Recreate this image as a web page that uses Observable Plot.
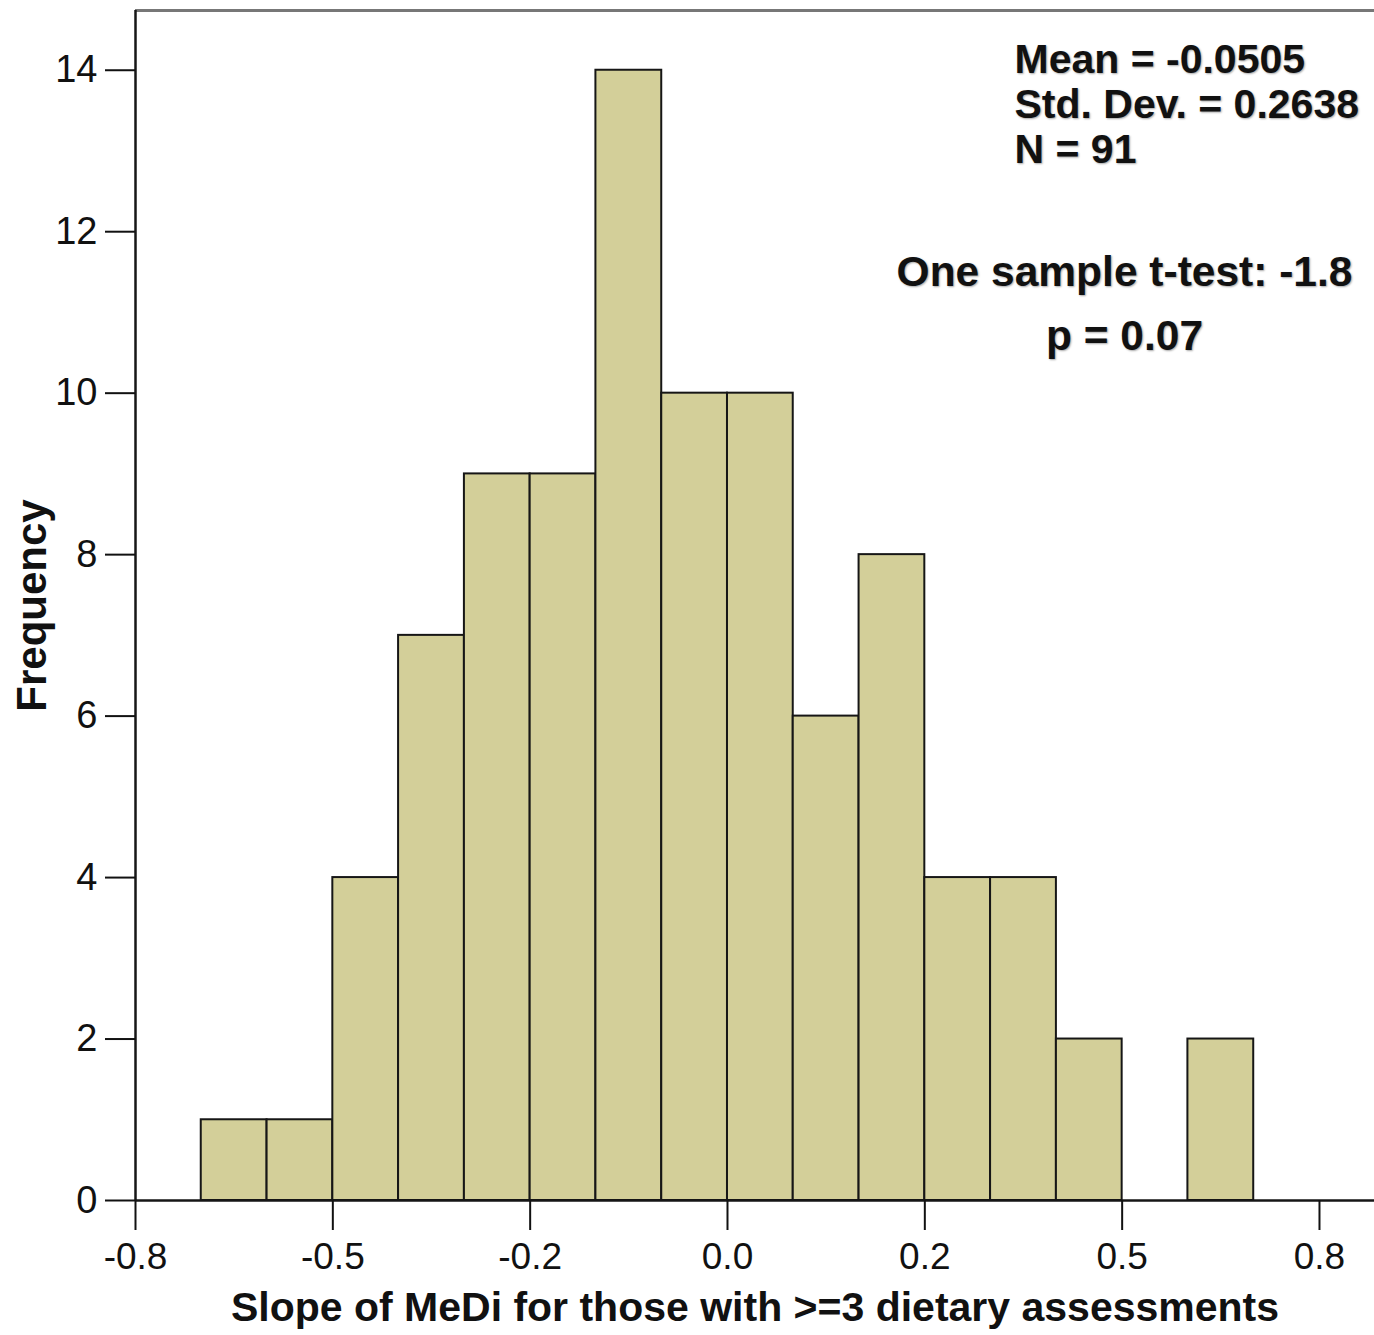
<!DOCTYPE html>
<html><head><meta charset="utf-8">
<script src="https://cdn.jsdelivr.net/npm/d3@7"></script>
<script src="https://cdn.jsdelivr.net/npm/@observablehq/plot@0.6"></script>
<style>
body{margin:0;background:#fff}
svg{display:block}
.ann text{text-shadow:1px 1px 2px rgba(0,0,0,0.35)}
</style>
</head><body><div id="chart"></div>
<script>
// Histogram bins (edges) and counts
const binEdges = [-0.6667,-0.5833,-0.5,-0.4167,-0.3333,-0.25,-0.1667,-0.0833,0,0.0833,0.1667,0.25,0.3333,0.4167,0.5,0.5833,0.6667];
const counts = [1,1,4,7,9,9,14,10,10,6,8,4,4,2,0,2];
const xTicks = [-0.75,-0.5,-0.25,0,0.25,0.5,0.75];
const xTickLabels = ["-0.8","-0.5","-0.2","0.0","0.2","0.5","0.8"];
const yTicks = [0,2,4,6,8,10,12,14];
const xTitle = "Slope of MeDi for those with >=3 dietary assessments";
const yTitle = "Frequency";
const stats = ["Mean = -0.0505","Std. Dev. = 0.2638","N = 91"];
const testLines = ["One sample t-test: -1.8","p = 0.07"];

const bins = counts.map((c,i)=>({x1: binEdges[i], x2: binEdges[i+1], count: c})).filter(d=>d.count>0);
const font = "'Liberation Sans', Arial, sans-serif";
const xMin = -0.75, xMax = 0.8197, yMax = 14.74;

const chart = Plot.plot({
  width: 1374, height: 1335,
  marginLeft: 135, marginRight: 0, marginTop: 10, marginBottom: 135,
  style: {fontFamily: font, color: "#111", background: "#fff"},
  x: {domain: [xMin, xMax]},
  y: {domain: [0, yMax]},
  marks: [
    Plot.rect(bins, {x1: "x1", x2: "x2", y1: 0, y2: "count", fill: "#D3CF99", stroke: "#161616", strokeWidth: 2}),
    Plot.ruleY([yMax], {stroke: "#777", strokeWidth: 3}),
    Plot.ruleY([0], {stroke: "#161616", strokeWidth: 2.5}),
    Plot.ruleX([xMin], {stroke: "#161616", strokeWidth: 2.5}),
    Plot.axisY({ticks: yTicks, tickSize: 30, tickPadding: 8, fontSize: 38, label: null, tickFormat: d=>String(d), strokeWidth: 2}),
    Plot.axisX({ticks: xTicks, tickFormat: d=>xTickLabels[xTicks.indexOf(d)], tickSize: 30, tickPadding: 12, fontSize: 37, label: null, strokeWidth: 2}),
    Plot.text([xTitle], {frameAnchor: "bottom", dy: 120, lineAnchor: "bottom", fontSize: 41, fontWeight: "bold", fill: "#111"}),
    Plot.text([yTitle], {frameAnchor: "left", dx: -103, rotate: -90, lineAnchor: "middle", textAnchor: "middle", fontSize: 42, fontWeight: "bold", fill: "#111"}),
    Plot.text([stats.join("\n")], {frameAnchor: "top-left", dx: 879, dy: 30, textAnchor: "start", lineAnchor: "top", lineHeight: 1.1, fontSize: 41, fontWeight: "bold", fill: "#111", className: "ann"}),
    Plot.text([testLines.join("\n")], {frameAnchor: "top-left", dx: 989, dy: 230, textAnchor: "middle", lineAnchor: "top", lineHeight: 1.5, fontSize: 42.5, fontWeight: "bold", fill: "#111", className: "ann"})
  ]
});
document.getElementById("chart").appendChild(chart);
</script>
</body></html>
